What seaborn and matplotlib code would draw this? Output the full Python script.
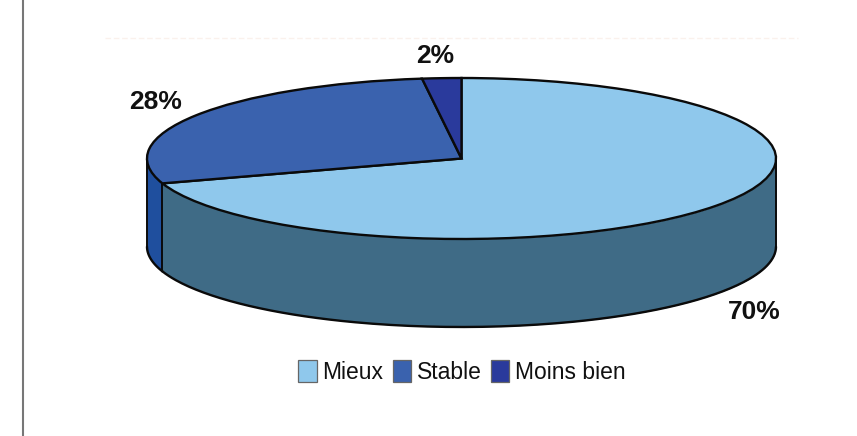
import numpy as np
import matplotlib
matplotlib.use("Agg")
import matplotlib.pyplot as plt
from matplotlib.patches import Patch
import seaborn as sns

categories = ["Mieux", "Stable", "Moins bien"]
values = [70, 28, 2]
labels = ["70%", "28%", "2%"]
top_colors = ["#8FC8EC", "#3A62AE", "#2A3A9C"]
side_colors = ["#3F6B86", "#1F4F9E", "#22308A"]

sns.set_theme(style="white")
plt.rcParams["font.family"] = ["Liberation Sans", "DejaVu Sans"]

W, H = 857, 436
CX, CY, RX, RY, DEPTH = 461.5, 158.5, 314.5, 80.5, 88.0

fig = plt.figure(figsize=(W / 100, H / 100), dpi=100, facecolor="white")
ax = fig.add_axes([0, 0, 1, 1])

# Bottom outline and walls are built from the pie fractions
fractions = np.array(values) / sum(values)
edges = 90 - 360 * np.concatenate([[0], np.cumsum(fractions)])

for i in range(len(values)):
    a = np.radians(np.linspace(edges[i], edges[i + 1], 300))
    front = np.sin(a) <= 0
    if front.any():
        xs = np.cos(a[front])
        top = np.sin(a[front])
        order = np.argsort(xs)
        ax.fill_between(xs[order], top[order], top[order] - DEPTH / RY,
                        color=side_colors[i], lw=0, zorder=1)
        ax.plot(xs[order], top[order] - DEPTH / RY, color="#0a0a0a", lw=1.7, zorder=2)

# Vertical wall edges at the silhouette and at the visible slice boundary
for xv, yv in [(-1, 0), (1, 0),
               (np.cos(np.radians(edges[1])), np.sin(np.radians(edges[1])))]:
    ax.plot([xv, xv], [yv, yv - DEPTH / RY], color="#0a0a0a", lw=1.4, zorder=2)

wedges, _ = ax.pie(values, colors=top_colors, startangle=90, counterclock=False,
                   radius=1, center=(0, 0), frame=True,
                   wedgeprops=dict(edgecolor="#0a0a0a", linewidth=1.7, zorder=3))
ax.set_aspect("auto")
ax.set_xlim((0 - CX) / RX, (W - CX) / RX)
ax.set_ylim((CY - H) / RY, CY / RY)
ax.set_axis_off()


def to_axes(px, py):
    return px / W, 1 - py / H


for text, (px, py) in zip(labels, [(754, 312), (155.5, 102), (435, 56)]):
    ax.text(*to_axes(px, py), text, transform=ax.transAxes, ha="center", va="center",
            fontsize=19, fontweight="bold", color="#111111", zorder=5)

# Panel border and faint gridline of the original slide
ax.plot([23.2 / W] * 2, [0, 1], transform=ax.transAxes, color="#777777", lw=1.5, clip_on=False)
ax.plot([105 / W, 798 / W], [1 - 38 / H] * 2, transform=ax.transAxes,
        color="#FAF1EC", lw=1, ls=(0, (4, 2)))

handles = [Patch(facecolor=c, edgecolor="#666666", linewidth=0.9) for c in top_colors]
ax.legend(handles, categories, loc="center", bbox_to_anchor=to_axes(462, 372),
          bbox_transform=ax.transAxes, ncol=3, frameon=False, fontsize=16.5,
          handlelength=0.8, handleheight=1.05, handletextpad=0.25, columnspacing=0.4,
          labelcolor="#111111", borderpad=0, borderaxespad=0)

fig.savefig("out.png", dpi=100, facecolor="white")
